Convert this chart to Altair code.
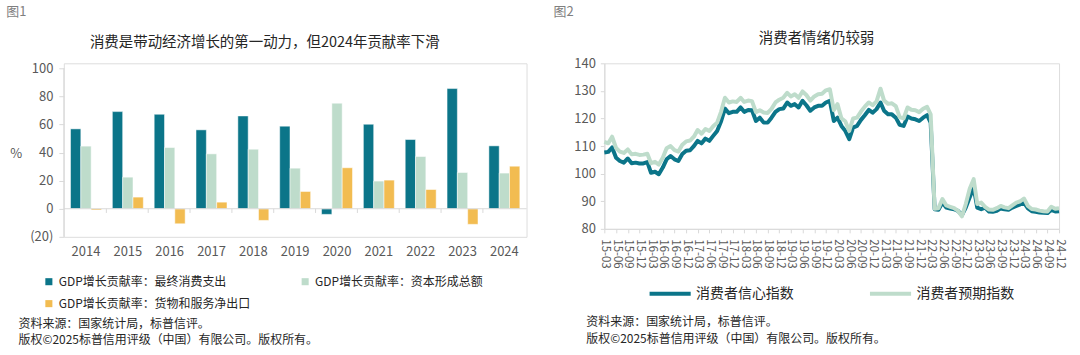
import altair as alt
import pandas as pd

FONT = "Noto Sans CJK SC"

# ---------------- Figure 1 data ----------------
years = ["2014", "2015", "2016", "2017", "2018", "2019", "2020", "2021", "2022", "2023", "2024"]
consumption = [56.9, 69.2, 67.3, 56.2, 66.1, 58.8, -4.0, 60.2, 49.3, 85.6, 44.8]
capital = [44.6, 22.5, 43.6, 39.1, 42.4, 28.9, 75.2, 19.7, 37.2, 25.8, 25.4]
net_export = [-0.9, 8.3, -10.7, 4.7, -8.3, 12.3, 29.2, 20.4, 13.7, -11.1, 30.3]
bar_series = ["GDP增长贡献率：最终消费支出", "GDP增长贡献率：资本形成总额", "GDP增长贡献率：货物和服务净出口"]
bar_colors = ["#0b7589", "#bedccb", "#f2bc51"]
y1_ticks = [-20, 0, 20, 40, 60, 80, 100]

# ---------------- Figure 2 data ----------------
start_month = "2015-03-01"
n_months = 118
confidence = [
    107.7, 107.9, 109.5, 105.8, 104.6, 104.0, 105.5, 103.8, 104.0, 103.7,
    103.7, 104.2, 100.3, 100.7, 99.8, 102.2, 105.2, 106.4, 105.2, 104.6,
    107.1, 108.3, 108.5, 110.1, 111.9, 111.0, 112.7, 111.9, 113.7, 115.5,
    119.0, 123.6, 121.9, 122.4, 122.4, 124.0, 122.4, 123.1, 123.0, 119.1,
    120.3, 118.5, 118.5, 120.3, 122.4, 123.4, 123.6, 125.8, 124.6, 125.2,
    124.0, 126.4, 124.8, 122.8, 124.0, 124.6, 124.6, 125.8, 126.4, 119.1,
    120.3, 117.3, 115.5, 112.5, 116.7, 117.3, 119.5, 121.2, 123.1, 122.1,
    123.4, 125.8, 122.8, 121.5, 121.5, 120.3, 117.7, 117.3, 120.7, 120.0,
    119.7, 119.1, 120.3, 121.2, 118.5, 87.1, 86.9, 89.5, 87.7, 87.4,
    87.1, 86.5, 85.0, 87.7, 91.4, 95.0, 87.7, 87.1, 87.7, 86.3,
    86.2, 86.5, 87.4, 87.1, 86.9, 87.7, 88.3, 88.9, 89.5, 87.4,
    86.4, 86.2, 85.9, 85.8, 85.7, 86.9, 86.3, 86.4,
]
expectation = [
    111.5, 111.0, 113.4, 109.3, 108.0, 107.5, 108.8, 107.0, 107.2, 106.8,
    106.9, 107.2, 103.8, 104.3, 103.3, 105.8, 109.2, 110.0, 108.5, 108.0,
    110.5, 111.7, 112.0, 113.5, 115.8, 114.5, 116.2, 115.5, 117.2, 118.5,
    122.5, 127.5, 125.8, 126.2, 126.0, 127.5, 126.0, 126.5, 126.3, 122.3,
    123.0, 122.2, 122.0, 123.5, 125.8, 126.8, 127.5, 129.3, 128.0, 128.8,
    127.5, 129.8, 128.5, 126.5, 128.0, 128.8, 129.0, 130.2, 130.6, 123.0,
    125.2, 120.0, 119.0, 115.5, 120.0, 120.3, 122.5, 124.3, 125.8, 124.8,
    126.2, 130.8, 126.5, 125.3, 125.5, 124.5, 120.5, 120.0, 124.0, 123.2,
    123.0, 122.3, 123.5, 124.2, 121.5, 87.3, 87.5, 90.8, 88.5, 88.0,
    87.5, 86.5, 84.5, 89.0, 94.5, 98.0, 89.0, 89.5, 88.0, 87.0,
    86.9, 87.5, 88.3, 87.8, 87.5, 88.5, 89.5, 90.0, 91.0, 88.3,
    87.2, 87.0, 86.6, 86.4, 86.3, 88.0, 87.3, 87.5,
]
line_series = ["消费者信心指数", "消费者预期指数"]
line_colors = ["#0b7589", "#bedccb"]
y2_ticks = [80, 90, 100, 110, 120, 130, 140]

TEXT_DARK = "#262626"
TEXT_AXIS = "#595959"
GRID = "#d9d9d9"

def label(text, x, y, size, color, align="left", baseline="middle"):
    return alt.Chart(pd.DataFrame({"t": [text]})).mark_text(
        align=align, baseline=baseline, fontSize=size, color=color, font=FONT
    ).encode(text="t:N", x=alt.value(x), y=alt.value(y))

# ---------------- Figure 1 ----------------
bar_df = pd.DataFrame({
    "year": years * 3,
    "series": [bar_series[0]] * len(years) + [bar_series[1]] * len(years) + [bar_series[2]] * len(years),
    "value": consumption + capital + net_export,
})

W1, H1 = 464, 174
Y1_TOP = 103.6   # a little headroom so both panels share the same top edge

bars = alt.Chart(bar_df).mark_bar(stroke="white", strokeWidth=0.5).encode(
    x=alt.X("year:N", sort=years,
            scale=alt.Scale(paddingInner=0.26, paddingOuter=0.16),
            axis=alt.Axis(title=None, labelAngle=0, domain=False, ticks=False, tickSize=0,
                          labelPadding=9, labelFontSize=13, labelColor=TEXT_AXIS, labelFont=FONT)),
    xOffset=alt.XOffset("series:N", sort=bar_series, scale=alt.Scale(paddingInner=0, paddingOuter=0)),
    y=alt.Y("value:Q",
            scale=alt.Scale(domain=[-20, Y1_TOP], nice=False, zero=False),
            axis=alt.Axis(title=None, values=y1_ticks, grid=False, domain=False, tickColor=GRID,
                          tickSize=5, labelPadding=6, labelFontSize=13, labelColor=TEXT_AXIS, labelFont=FONT,
                          labelOverlap=False,
                          labelExpr="datum.value < 0 ? '(' + abs(datum.value) + ')' : format(datum.value, 'd')")),
    color=alt.Color("series:N", scale=alt.Scale(domain=bar_series, range=bar_colors),
                    legend=alt.Legend(title=None, orient="none", legendX=-21, legendY=213, columns=2,
                                      direction="horizontal", symbolType="square", symbolSize=50,
                                      symbolStrokeWidth=0, labelFontSize=12, labelColor=TEXT_DARK,
                                      labelFont=FONT, labelLimit=400, columnPadding=48, rowPadding=10,
                                      labelOffset=4)),
)

zero_rule = alt.Chart(pd.DataFrame({"z": [0]})).mark_rule(color=GRID, strokeWidth=1).encode(
    y=alt.Y("z:Q", axis=None), x=alt.value(0), x2=alt.value(W1)
)

y_axis_line = alt.Chart(pd.DataFrame({"lo": [y1_ticks[0]], "hi": [y1_ticks[-1]]})).mark_rule(
    color=GRID, strokeWidth=1
).encode(y=alt.Y("lo:Q", axis=None), y2="hi:Q", x=alt.value(0))

sep_ticks = alt.Chart(pd.DataFrame({"year": years[1:]})).mark_rule(color=GRID, strokeWidth=1, xOffset=-6).encode(
    x=alt.X("year:N", sort=years, bandPosition=0, axis=None),
    y=alt.Y(datum=0, axis=None), y2=alt.datum(-3),
)

left = alt.layer(
    bars, zero_rule, y_axis_line, sep_ticks,
    label("图1", -57.7, -57.3, 13, "#7f7f7f", baseline="top"),
    label("消费是带动经济增长的第一动力，但2024年贡献率下滑", 201.5, -20.3, 14.5, TEXT_DARK, align="center"),
    label("%", -47.7, 90.7, 13, TEXT_AXIS, align="center"),
    label("资料来源：国家统计局，标普信评。", -45.4, 261.7, 12, TEXT_DARK),
    label("版权©2025标普信用评级（中国）有限公司。版权所有。", -45.4, 277.7, 12, TEXT_DARK),
).resolve_axis(x="independent", y="independent").properties(width=W1, height=H1)

# ---------------- Figure 2 ----------------
months = pd.date_range(start_month, periods=n_months, freq="MS")
month_str = list(months.strftime("%Y/%m/%d"))
line_df = pd.DataFrame({
    "month": month_str * 2,
    "series": [line_series[0]] * n_months + [line_series[1]] * n_months,
    "value": confidence + expectation,
})
tick_dates = [alt.DateTime(year=int(d.year), month=int(d.month), date=1) for d in months[::3]]

W2, H2 = 456, 166

line_base = alt.Chart(line_df).mark_line(strokeWidth=4, strokeJoin="round").encode(
    x=alt.X("month:T", scale=alt.Scale(nice=False),
            axis=alt.Axis(title=None, values=tick_dates, format="%y-%m", labelAngle=90,
                          labelOverlap=False, labelBound=False, grid=False,
                          domainColor=GRID, tickColor=GRID, tickSize=4, labelPadding=6,
                          labelFontSize=11.5, labelColor=TEXT_AXIS, labelFont=FONT)),
    y=alt.Y("value:Q", scale=alt.Scale(domain=[80, 140], nice=False, zero=False),
            axis=alt.Axis(title=None, values=y2_ticks, grid=False, domainColor=GRID, tickColor=GRID,
                          tickSize=4, labelPadding=5, labelFontSize=13, labelColor=TEXT_AXIS,
                          labelFont=FONT, labelOverlap=False)),
    color=alt.Color("series:N", scale=alt.Scale(domain=line_series, range=line_colors),
                    legend=alt.Legend(title=None, orient="none", legendX=43, legendY=208,
                                      direction="horizontal", symbolType="stroke", symbolSize=1700,
                                      symbolStrokeWidth=4, labelFontSize=14, labelColor=TEXT_DARK,
                                      labelFont=FONT, labelLimit=400, columnPadding=68, labelOffset=3)),
)

line_dark = line_base.transform_filter(alt.datum.series == line_series[0])
line_light = line_base.transform_filter(alt.datum.series == line_series[1])

right = alt.layer(
    line_dark, line_light,
    label("图2", -51, -57.3, 13, "#7f7f7f", baseline="top"),
    label("消费者情绪仍较弱", 212.8, -24, 14.5, TEXT_DARK, align="center"),
    label("资料来源：国家统计局，标普信评。", -18, 259.5, 12, TEXT_DARK),
    label("版权©2025标普信用评级（中国）有限公司。版权所有。", -18, 276.5, 12, TEXT_DARK),
).properties(width=W2, height=H2)

chart = alt.hconcat(left, right, spacing=25).resolve_scale(
    color="independent", x="independent", y="independent"
).properties(
    padding={"left": 5, "top": 5, "right": 14, "bottom": 0},
    background="white",
).configure_view(stroke=None).configure(font=FONT)

chart.save("out.html", embed_options={"renderer": "svg", "actions": False})
